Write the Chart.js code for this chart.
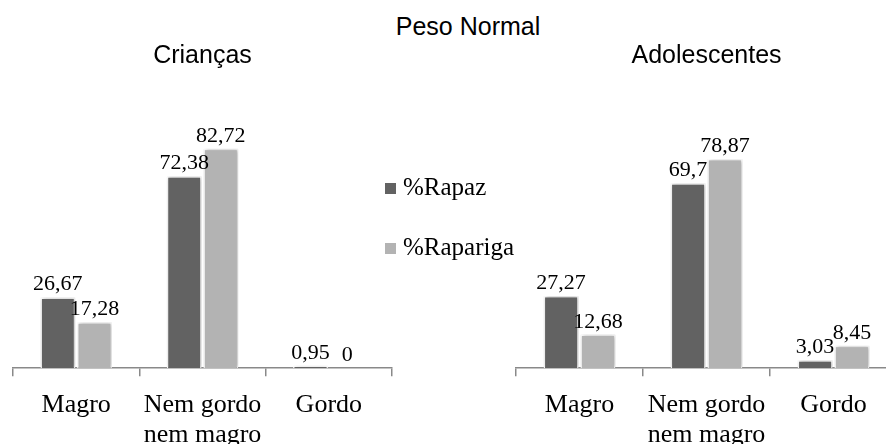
<!DOCTYPE html>
<html>
<head>
<meta charset="utf-8">
<script src="https://cdn.jsdelivr.net/npm/chart.js@4/dist/chart.umd.min.js"></script>
<style>
  body { margin: 0; width: 886px; height: 444px; overflow: hidden; background: #fff; position: relative; }
  #titulo { position: absolute; left: 368px; top: 11px; width: 200px; text-align: center;
    font: 25px 'Liberation Sans', Arial, sans-serif; line-height: 30px; color: #000; }
  .box { position: absolute; top: 0; }
  #left { left: 0; width: 442px; height: 464px; }
  #right { left: 500px; width: 439px; height: 464px; }
  .leg { position: absolute; left: 385px; font: 25px 'Liberation Serif', 'Times New Roman', serif;
    line-height: 30px; color: #000; white-space: nowrap; }
  .leg span { display: inline-block; width: 11px; height: 11px; margin-right: 7px; vertical-align: 1px; }
</style>
</head>
<body>
<div id="titulo">Peso Normal</div>
<div class="box" id="left"><canvas id="c1"></canvas></div>
<div class="box" id="right"><canvas id="c2"></canvas></div>
<div id="legenda"></div>
<script>
const categorias = ['Magro', ['Nem gordo', 'nem magro'], 'Gordo'];
const series = ['%Rapaz', '%Rapariga'];
const cores = ['#626262', '#b3b3b3'];

const criancasRapaz = [26.67, 72.38, 0.95];
const criancasRapariga = [17.28, 82.72, 0];
const adolescRapaz = [27.27, 69.7, 3.03];
const adolescRapariga = [12.68, 78.87, 8.45];

// legend in html between the two charts
const legenda = document.getElementById('legenda');
series.forEach((s, i) => {
  const d = document.createElement('div');
  d.className = 'leg';
  d.style.top = (172 + i * 60) + 'px';
  d.innerHTML = '<span style="background:' + cores[i] + '"></span>' + s;
  legenda.appendChild(d);
});

const shadowPlugin = {
  id: 'barShadow',
  beforeDatasetsDraw(chart) {
    const ctx = chart.ctx;
    ctx.save();
    ctx.shadowColor = 'rgba(0,0,0,0.3)';
    ctx.shadowBlur = 4;
    ctx.shadowOffsetX = 1;
    ctx.shadowOffsetY = 0;
  },
  afterDatasetsDraw(chart) {
    chart.ctx.restore();
  }
};

const valueLabels = {
  id: 'valueLabels',
  afterDraw(chart) {
    const ctx = chart.ctx;
    ctx.save();
    ctx.font = "22px 'Liberation Serif', 'Times New Roman', serif";
    ctx.fillStyle = '#000';
    ctx.textAlign = 'center';
    ctx.textBaseline = 'alphabetic';
    chart.data.datasets.forEach((ds, i) => {
      chart.getDatasetMeta(i).data.forEach((bar, j) => {
        const txt = String(ds.data[j]).replace('.', ',');
        ctx.fillText(txt, bar.x, bar.y - 7);
      });
    });
    ctx.restore();
  }
};

function makeChart(id, titulo, rapaz, rapariga, padLeft, padRight) {
  return new Chart(document.getElementById(id), {
    type: 'bar',
    data: {
      labels: categorias,
      datasets: [
        { label: series[0], data: rapaz, backgroundColor: cores[0], borderColor: '#fff', borderWidth: 1.5 },
        { label: series[1], data: rapariga, backgroundColor: cores[1], borderColor: '#fff', borderWidth: 1.5 }
      ]
    },
    options: {
      responsive: true,
      maintainAspectRatio: false,
      animation: false,
      categoryPercentage: 0.58,
      barPercentage: 0.95,
      layout: { padding: { left: padLeft, right: padRight, top: 0, bottom: 0 } },
      scales: {
        x: {
          grid: { drawOnChartArea: false, drawTicks: true, tickLength: 8, color: '#898989', lineWidth: 1.5 },
          border: { display: true, color: '#898989', width: 1.5 },
          ticks: {
            color: '#000',
            padding: 14,
            maxRotation: 0,
            autoSkip: false,
            font: { family: "'Liberation Serif', 'Times New Roman', serif", size: 26, lineHeight: 1.15 }
          }
        },
        y: { display: false, min: 0, max: 100 }
      },
      plugins: {
        legend: { display: false },
        tooltip: { enabled: false },
        title: {
          display: true,
          text: titulo,
          color: '#000',
          font: { family: "'Liberation Sans', Arial, sans-serif", size: 25, weight: 'normal' },
          padding: { top: 41, bottom: 32 }
        }
      }
    },
    plugins: [shadowPlugin, valueLabels]
  });
}

makeChart('c1', 'Crianças', criancasRapaz, criancasRapariga, 13, 50);
makeChart('c2', 'Adolescentes', adolescRapaz, adolescRapariga, 16, 42);
</script>
</body>
</html>
